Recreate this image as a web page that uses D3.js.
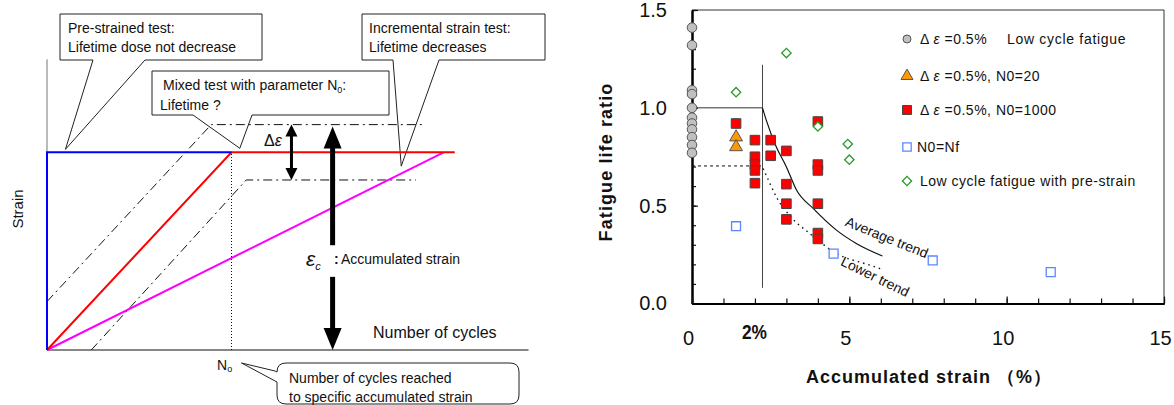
<!DOCTYPE html>
<html>
<head>
<meta charset="utf-8">
<script src="https://cdn.jsdelivr.net/npm/d3@7"></script>
<style>
body { margin: 0; background: #fff; }
text { font-family: Arial, "Liberation Sans", sans-serif; fill: #111; }
</style>
</head>
<body>
<div id="chart"></div>
<script>
// ---------- right panel: fatigue life ratio vs accumulated strain (%)
let xTicks = [0, 5, 10, 15];
let yTicks = [0, 0.5, 1.0, 1.5];
let lowCycle = [1.41, 1.32, 1.09, 1.07, 1.0, 0.95, 0.92, 0.89, 0.85, 0.81, 0.77];   // all at 0 %
let n20 = [[1.4, 0.85], [1.4, 0.80]];
let n1000 = [[1.4, 0.92], [2, 0.835], [2, 0.75], [2, 0.71], [2, 0.68], [2, 0.615],
             [2.5, 0.835], [2.5, 0.755], [3, 0.78], [3, 0.61], [3, 0.51], [3, 0.43],
             [4, 0.93], [4, 0.71], [4, 0.68], [4, 0.51], [4, 0.36], [4, 0.33]];
let nf = [[1.4, 0.395], [4.5, 0.255], [7.65, 0.22], [11.4, 0.16]];
let preStrain = [[1.4, 1.08], [3.0, 1.28], [4.0, 0.905], [4.95, 0.815], [5.0, 0.735]];
let avgTrend = [[2.24, 1.0], [2.36, 0.937], [2.68, 0.80], [3.0, 0.698], [3.32, 0.58],
                [3.85, 0.486], [4.59, 0.375], [5.22, 0.307], [6.05, 0.243]];
let lowerTrend = [[2.26, 0.69], [2.36, 0.655], [2.68, 0.545], [3.1, 0.45], [3.74, 0.358],
                  [4.59, 0.256], [5.65, 0.196], [6.05, 0.174]];
let limitStrain = 2.24;
let limitRange = [0.08, 1.22];
let lowerLevel = 0.703;
let legendLabels = ["Δ ε =0.5%", "Δ ε =0.5%, N0=20", "Δ ε =0.5%, N0=1000", "N0=Nf",
                    "Low cycle fatigue with pre-strain"];

// ---------- left panel: schematic (cycles in units of N0, strain in units of the target strain)
let preStrained = [[0, 0], [0, 1], [1, 1]];
let mixedTest = [[0, 0], [1, 1], [2.21, 1]];
let incremental = [[0, 0], [2.15, 1]];
let upperBand = [[0, 0.245], [0.89, 1.14], [2.04, 1.14]];
let lowerBand = [[0.24, 0], [1.08, 0.86], [2.0, 0.86]];
let n0 = 1;
let bandTop = 1.14, bandBottom = 0.86;
let deltaEpsAt = 1.325, epsCAt = 1.548;

let svg = d3.select("#chart")
    .append("svg")
    .attr("width", 1174)
    .attr("height", 405);

// ======================= left schematic
let sx = d3.scaleLinear().domain([0, 1]).range([47, 231.5]);
let sy = d3.scaleLinear().domain([0, 1]).range([350, 152.3]);
let left = svg.append("g");

function callout(g, box, base, tip) {
    let p = d3.path();
    p.moveTo(box[0], box[1]);
    p.lineTo(box[2], box[1]);
    p.lineTo(box[2], box[3]);
    p.lineTo(base[1], box[3]);
    p.lineTo(tip[0], tip[1]);
    p.lineTo(base[0], box[3]);
    p.lineTo(box[0], box[3]);
    p.closePath();
    g.append("path")
        .attr("d", p.toString())
        .attr("fill", "#fff")
        .attr("stroke", "#222")
        .attr("stroke-width", 1);
}

callout(left, [60, 14, 262, 60], [93, 145], [sx(0.1), sy(1) - 3]);
callout(left, [152, 71, 389, 115], [193, 252], [sx(1.045), sy(1) - 4]);
callout(left, [362, 14, 545, 60], [393, 439], [sx(1.92), sy(0.93)]);

// rounded callout under the axis
let rb = {x0: 277, y0: 363, x1: 519, y1: 404, r: 9};
let rp = d3.path();
rp.moveTo(rb.x0, rb.y0 + rb.r);
rp.quadraticCurveTo(rb.x0, rb.y0, rb.x0 + rb.r, rb.y0);
rp.lineTo(rb.x1 - rb.r, rb.y0);
rp.quadraticCurveTo(rb.x1, rb.y0, rb.x1, rb.y0 + rb.r);
rp.lineTo(rb.x1, rb.y1 - rb.r);
rp.quadraticCurveTo(rb.x1, rb.y1, rb.x1 - rb.r, rb.y1);
rp.lineTo(rb.x0 + rb.r, rb.y1);
rp.quadraticCurveTo(rb.x0, rb.y1, rb.x0, rb.y1 - rb.r);
rp.lineTo(rb.x0, 382);
rp.lineTo(sx(n0) + 10, 363);
rp.lineTo(rb.x0 - 2, 371);
rp.closePath();
left.append("path").attr("d", rp.toString())
    .attr("fill", "#fff").attr("stroke", "#222").attr("stroke-width", 1);

function lines(g, rows, size) {
    rows.forEach(r => {
        g.append("text").attr("x", r[0]).attr("y", r[1])
            .attr("font-size", size).text(r[2]);
    });
}
lines(left, [[68, 33, "Pre-strained test:"], [68, 52, "Lifetime dose not decrease"]], "14px");
lines(left, [[369, 33, "Incremental strain test:"], [369, 52, "Lifetime decreases"]], "14px");
let mt = left.append("text").attr("x", 163).attr("y", 90).attr("font-size", "14px");
mt.append("tspan").text("Mixed test with parameter N");
mt.append("tspan").attr("font-size", "9px").attr("dy", 3).text("0");
mt.append("tspan").attr("dy", -3).text(":");
lines(left, [[160, 110, "Lifetime ?"]], "14px");
lines(left, [[289, 383, "Number of cycles reached"], [289, 402, "to specific accumulated strain"]], "14px");

// axes of schematic
left.append("line")
    .attr("x1", sx(0)).attr("x2", sx(0))
    .attr("y1", sy(0)).attr("y2", sy(1.47))
    .attr("stroke", "#777").attr("stroke-width", 1);
left.append("line")
    .attr("x1", sx(0)).attr("x2", sx(2.61))
    .attr("y1", sy(0)).attr("y2", sy(0))
    .attr("stroke", "#111").attr("stroke-width", 1.2);

let sline = d3.line().x(d => sx(d[0])).y(d => sy(d[1]));

[upperBand, lowerBand].forEach(b => {
    left.append("path").attr("d", sline(b))
        .attr("fill", "none").attr("stroke", "#111").attr("stroke-width", 1)
        .attr("stroke-dasharray", "9,4,2,4");
});
left.append("line")
    .attr("x1", sx(n0)).attr("x2", sx(n0))
    .attr("y1", sy(0)).attr("y2", sy(1))
    .attr("stroke", "#111").attr("stroke-width", 1).attr("stroke-dasharray", "1,2");

left.append("path").attr("d", sline(incremental))
    .attr("fill", "none").attr("stroke", "#ff00ff").attr("stroke-width", 2);
left.append("path").attr("d", sline(mixedTest))
    .attr("fill", "none").attr("stroke", "#ff0000").attr("stroke-width", 2);
left.append("path").attr("d", sline(preStrained))
    .attr("fill", "none").attr("stroke", "#0000ff").attr("stroke-width", 2);

// arrows
function head(g, cx, tipY, dir, w, h) {
    g.append("path")
        .attr("d", "M" + cx + "," + tipY + "L" + (cx - w / 2) + "," + (tipY + dir * h)
            + "L" + (cx + w / 2) + "," + (tipY + dir * h) + "Z")
        .attr("fill", "#000");
}
let dx = sx(deltaEpsAt);
left.append("line").attr("x1", dx).attr("x2", dx)
    .attr("y1", sy(bandTop) + 8).attr("y2", sy(bandBottom) - 8)
    .attr("stroke", "#000").attr("stroke-width", 3);
head(left, dx, sy(bandTop), 1, 12, 12);
head(left, dx, sy(bandBottom), -1, 12, 12);

let ex = sx(epsCAt);
left.append("line").attr("x1", ex).attr("x2", ex)
    .attr("y1", sy(1.13) + 18).attr("y2", sy(0.53))
    .attr("stroke", "#000").attr("stroke-width", 5);
left.append("line").attr("x1", ex).attr("x2", ex)
    .attr("y1", sy(0.37)).attr("y2", sy(0) - 18)
    .attr("stroke", "#000").attr("stroke-width", 5);
head(left, ex, sy(1.13), 1, 18, 22);
head(left, ex, sy(0), -1, 18, 22);

let de = left.append("text").attr("x", 264).attr("y", 146)
    .attr("font-family", "'Times New Roman', 'Liberation Serif', serif").attr("font-size", "16px");
de.append("tspan").text("Δ");
de.append("tspan").attr("font-style", "italic").text("ε");

let ec = left.append("text").attr("x", 306).attr("y", 266)
    .attr("font-family", "'Times New Roman', 'Liberation Serif', serif").attr("font-size", "21px")
    .attr("font-style", "italic");
ec.append("tspan").text("ε");
ec.append("tspan").attr("font-size", "11px").attr("dy", 4).text("c");
left.append("text").attr("x", 334).attr("y", 264).attr("font-size", "14px")
    .attr("font-weight", "bold").text(":");
left.append("text").attr("x", 341).attr("y", 264).attr("font-size", "14px")
    .text("Accumulated strain");
left.append("text").attr("x", 373).attr("y", 338).attr("font-size", "16px")
    .text("Number of cycles");
left.append("text").attr("x", 23).attr("y", 209)
    .attr("transform", "rotate(-90,23,209)")
    .attr("text-anchor", "middle").attr("font-size", "15px").text("Strain");
let nl = left.append("text").attr("x", 217).attr("y", 370).attr("font-size", "14px");
nl.append("tspan").text("N");
nl.append("tspan").attr("font-size", "9px").attr("dy", 2).text("o");

// ======================= right scatter chart
let x = d3.scaleLinear().domain([0, 15]).range([692, 1164]);
let y = d3.scaleLinear().domain([0, 1.5]).range([303.5, 10]);
let chart = svg.append("g");

// frame
chart.append("path")
    .attr("d", "M" + x(0) + "," + y(1.5) + "H" + x(15) + "V" + y(0))
    .attr("fill", "none").attr("stroke", "#333").attr("stroke-width", 1);

let yMinor = d3.axisLeft(y).tickValues(d3.range(0, 1.5001, 0.1)).tickSize(-4).tickSizeOuter(0).tickFormat("");
let yMajor = d3.axisLeft(y).tickValues(yTicks).tickSize(-6).tickSizeOuter(0)
    .tickPadding(25).tickFormat(d3.format(".1f"));
let xMinor = d3.axisBottom(x).tickValues(d3.range(0, 15.001, 1)).tickSize(-5).tickSizeOuter(0).tickFormat("");
let xMajor = d3.axisBottom(x).tickValues(xTicks).tickSize(-7).tickSizeOuter(0)
    .tickPadding(27).tickFormat(d3.format("d"));

[yMinor, yMajor].forEach(a => {
    chart.append("g").attr("transform", "translate(" + x(0) + ",0)").call(a)
        .attr("class", "axis");
});
[xMinor, xMajor].forEach(a => {
    chart.append("g").attr("transform", "translate(0," + y(0) + ")").call(a)
        .attr("class", "axis xaxis");
});
chart.selectAll(".axis path.domain").attr("stroke", "#000").attr("stroke-width", 2);
chart.selectAll(".axis line").attr("stroke", "#111").attr("stroke-width", 1.2);
chart.selectAll(".axis text")
    .attr("font-family", "Arial, 'Liberation Sans', sans-serif")
    .attr("font-size", "20px").attr("fill", "#222");
chart.selectAll(".xaxis text").attr("dx", "-0.2em");

// reference lines
chart.append("path")
    .attr("d", "M" + x(0) + "," + y(1) + "H" + x(limitStrain))
    .attr("stroke", "#333").attr("stroke-width", 1);
chart.append("line")
    .attr("x1", x(limitStrain)).attr("x2", x(limitStrain))
    .attr("y1", y(limitRange[1])).attr("y2", y(limitRange[0]))
    .attr("stroke", "#444").attr("stroke-width", 1);
chart.append("line")
    .attr("x1", x(0)).attr("x2", x(limitStrain))
    .attr("y1", y(lowerLevel)).attr("y2", y(lowerLevel))
    .attr("stroke", "#111").attr("stroke-width", 1).attr("stroke-dasharray", "3,3");

let trend = d3.line().x(d => x(d[0])).y(d => y(d[1])).curve(d3.curveMonotoneX);
chart.append("path").attr("d", trend(avgTrend))
    .attr("fill", "none").attr("stroke", "#111").attr("stroke-width", 1.2);
chart.append("path").attr("d", trend(lowerTrend))
    .attr("fill", "none").attr("stroke", "#111").attr("stroke-width", 1.4)
    .attr("stroke-dasharray", "1.5,4");

chart.append("text").attr("transform", "translate(885,242) rotate(22)")
    .attr("text-anchor", "middle")
    .attr("font-family", "'Times New Roman', 'Liberation Serif', serif")
    .attr("font-size", "14px").attr("fill", "#333").text("Average trend");
chart.append("text").attr("transform", "translate(873,281) rotate(26)")
    .attr("text-anchor", "middle")
    .attr("font-family", "'Times New Roman', 'Liberation Serif', serif")
    .attr("font-size", "14px").attr("fill", "#333").text("Lower trend");

// markers
let series = [
    {data: lowCycle.map(v => [0, v]), type: d3.symbolCircle, size: 72, fill: "#c0c0c0", stroke: "#555", rot: 0},
    {data: n20, type: d3.symbolTriangle, size: 72, fill: "#ff9900", stroke: "#555", rot: 0},
    {data: n1000, type: d3.symbolSquare, size: 92, fill: "#ff0000", stroke: "#444", rot: 0},
    {data: nf, type: d3.symbolSquare, size: 80, fill: "#fff", stroke: "#5b86ff", rot: 0},
    {data: preStrain, type: d3.symbolSquare, size: 44, fill: "#fff", stroke: "#2a9a2a", rot: 45}
];
series.forEach((s, i) => {
    chart.append("g").selectAll("path")
        .data(s.data)
        .enter()
        .append("path")
        .attr("d", d3.symbol().type(s.type).size(s.size))
        .attr("transform", d => "translate(" + x(d[0]) + "," + y(d[1]) + ") rotate(" + s.rot + ")")
        .attr("fill", s.fill)
        .attr("stroke", s.stroke)
        .attr("stroke-width", i > 2 ? 1.3 : 1);
});

// legend
let legendY = [39, 76, 110, 147, 181];
let legendSize = [50, 62, 80, 70, 42];
let legend = chart.append("g");
series.forEach((s, i) => {
    legend.append("path")
        .attr("d", d3.symbol().type(s.type).size(legendSize[i]))
        .attr("transform", "translate(907," + legendY[i] + ") rotate(" + s.rot + ")")
        .attr("fill", s.fill).attr("stroke", s.stroke)
        .attr("stroke-width", i > 2 ? 1.3 : 1);
    let t = legend.append("text")
        .attr("x", i === 3 ? 917 : 920)
        .attr("y", legendY[i] + 5)
        .attr("font-size", "14px")
        .attr("letter-spacing", "0.5px");
    let parts = legendLabels[i].split("ε");
    t.append("tspan").text(parts[0]);
    if (parts.length > 1) {
        t.append("tspan").attr("font-style", "italic").text("ε");
        t.append("tspan").text(parts[1]);
    }
});
legend.append("text").attr("x", 1007).attr("y", legendY[0] + 5)
    .attr("font-size", "14px").attr("letter-spacing", "0.7px").text("Low cycle fatigue");

// axis titles
chart.append("text")
    .attr("transform", "translate(612,162) rotate(-90)")
    .attr("text-anchor", "middle")
    .attr("font-size", "18px").attr("font-weight", "bold")
    .attr("letter-spacing", "1.1px")
    .text("Fatigue life ratio");
chart.append("text")
    .attr("x", 929).attr("y", 383)
    .attr("text-anchor", "middle")
    .attr("font-size", "18px").attr("font-weight", "bold")
    .attr("letter-spacing", "1px")
    .text("Accumulated strain （%）");
chart.append("text")
    .attr("x", 742).attr("y", 339)
    .attr("font-size", "20px").attr("font-weight", "bold")
    .attr("textLength", 25).attr("lengthAdjust", "spacingAndGlyphs")
    .text("2%");
</script>
</body>
</html>
